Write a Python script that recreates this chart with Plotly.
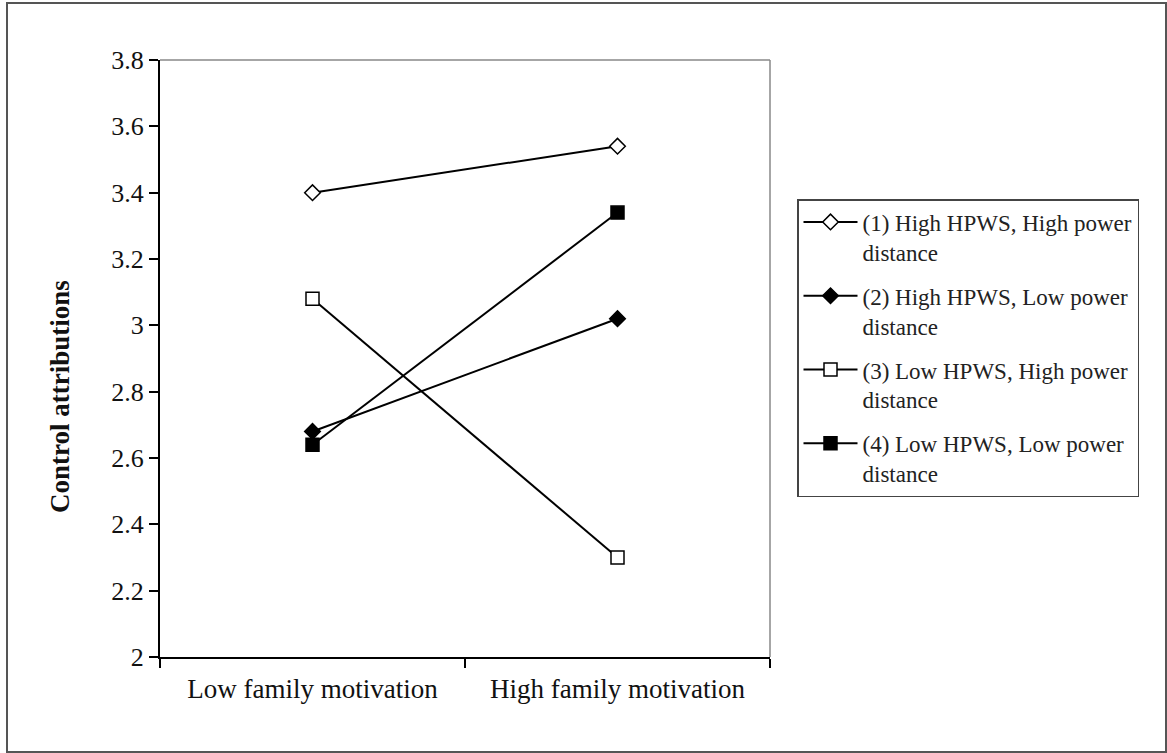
import plotly.graph_objects as go

categories = ["Low family motivation", "High family motivation"]
series_names = [
    "(1) High HPWS, High power<br>distance",
    "(2) High HPWS, Low power<br>distance",
    "(3) Low HPWS, High power<br>distance",
    "(4) Low HPWS, Low power<br>distance",
]
s1 = [3.40, 3.54]
s2 = [2.68, 3.02]
s3 = [3.08, 2.30]
s4 = [2.64, 3.34]
series_values = [s1, s2, s3, s4]
y_ticks = [2.0, 2.2, 2.4, 2.6, 2.8, 3.0, 3.2, 3.4, 3.6, 3.8]
y_tick_labels = ["2", "2.2", "2.4", "2.6", "2.8", "3", "3.2", "3.4", "3.6", "3.8"]
y_title = "Control attributions"

symbols = ["diamond", "diamond", "square", "square"]
fills = ["white", "black", "white", "black"]
sizes = [12, 12, 13, 13]

FONT = "Liberation Serif, Times New Roman, serif"
W, H = 1167, 753
L, R, T, B = 160, 770, 60, 657
PW, PH = R - L, B - T

fig = go.Figure()
for i, (name, vals, sym, fc, sz) in enumerate(zip(series_names, series_values, symbols, fills, sizes)):
    fig.add_trace(go.Scatter(
        x=categories, y=vals, name=name, mode="lines+markers",
        legendgroup=f"g{i}",
        line=dict(color="black", width=2),
        marker=dict(symbol=sym, size=sz, color=fc, line=dict(color="black", width=1.5)),
    ))

fig.update_layout(
    width=W, height=H,
    margin=dict(l=L, r=W - R, t=T, b=H - B),
    paper_bgcolor="white", plot_bgcolor="white",
    font=dict(family=FONT, color="black", size=22),
    showlegend=True,
    legend=dict(
        x=(797 - L) / PW, y=(B - 199) / PH, xanchor="left", yanchor="top",
        bordercolor="#444", borderwidth=1.5, bgcolor="white",
        font=dict(family=FONT, size=23, color="#222"),
        valign="top", tracegroupgap=11, itemwidth=54,
    ),
    xaxis=dict(
        type="category", range=[-0.5, 1.5], tickson="boundaries",
        ticks="outside", ticklen=9, tickcolor="black", tickwidth=1.5,
        showline=True, linecolor="black", linewidth=2,
        showgrid=False, zeroline=False, ticklabelstandoff=7,
        tickfont=dict(family=FONT, size=27, color="#111"),
    ),
    yaxis=dict(
        range=[2.0, 3.8], tickmode="array", tickvals=y_ticks, ticktext=y_tick_labels,
        ticks="outside", ticklen=9, tickcolor="black", tickwidth=1.5,
        showline=True, linecolor="black", linewidth=2,
        showgrid=False, zeroline=False,
        tickfont=dict(family=FONT, size=26, color="#111"),
    ),
    annotations=[
        dict(text=f"<b>{y_title}</b>", textangle=-90, showarrow=False,
             xref="paper", yref="paper", x=(60 - L) / PW, y=(B - 397) / PH,
             xanchor="center", yanchor="middle",
             font=dict(family=FONT, size=27, color="#111")),
    ],
    shapes=[
        dict(type="line", xref="paper", yref="paper", x0=0, x1=1, y0=1, y1=1,
             line=dict(color="#888", width=1.5)),
        dict(type="line", xref="paper", yref="paper", x0=1, x1=1, y0=0, y1=1,
             line=dict(color="#888", width=1.5)),
        dict(type="rect", xref="paper", yref="paper",
             x0=(7 - L) / PW, x1=(1166 - L) / PW,
             y0=(B - 752) / PH, y1=(B - 3) / PH,
             line=dict(color="#555", width=2), layer="below"),
    ],
)

fig.write_html("out.html", config={"displayModeBar": False},
               post_script="document.body.style.margin='0';")
